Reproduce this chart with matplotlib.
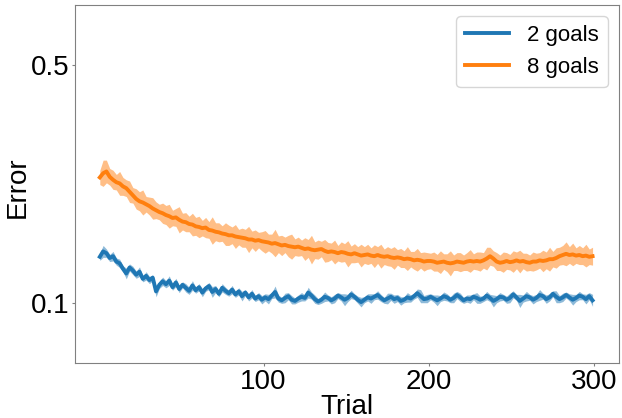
"""Error per trial for the 2-goal and 8-goal conditions (mean with SEM band)."""

import matplotlib
matplotlib.use("Agg")
import matplotlib.pyplot as plt
import numpy as np

plt.rcParams["font.family"] = ["Liberation Sans", "DejaVu Sans"]

# ------------------------------------------------------------------
# Data: values, one point every second trial
# ------------------------------------------------------------------
trials = np.arange(1, 300, 2)

err_2_goals = [
    0.178, 0.187, 0.184, 0.176, 0.179, 0.170, 0.167, 0.158, 0.150, 0.160,
    0.155, 0.148, 0.153, 0.141, 0.146, 0.139, 0.143, 0.120, 0.131, 0.137,
    0.132, 0.138, 0.127, 0.135, 0.124, 0.131, 0.126, 0.121, 0.130, 0.122,
    0.127, 0.118, 0.125, 0.129, 0.119, 0.124, 0.116, 0.126, 0.121, 0.117,
    0.123, 0.115, 0.120, 0.112, 0.118, 0.110, 0.116, 0.108, 0.112, 0.106,
    0.110, 0.107, 0.113, 0.119, 0.108, 0.105, 0.109, 0.112, 0.106, 0.104,
    0.108, 0.111, 0.109, 0.118, 0.113, 0.107, 0.103, 0.106, 0.111, 0.109,
    0.105, 0.108, 0.113, 0.110, 0.106, 0.109, 0.115, 0.111, 0.106, 0.102,
    0.106, 0.110, 0.108, 0.111, 0.114, 0.109, 0.105, 0.108, 0.111, 0.107,
    0.109, 0.104, 0.106, 0.110, 0.108, 0.112, 0.117, 0.112, 0.107, 0.108,
    0.111, 0.108, 0.105, 0.108, 0.112, 0.110, 0.106, 0.109, 0.114, 0.110,
    0.105, 0.108, 0.107, 0.111, 0.109, 0.106, 0.108, 0.113, 0.109, 0.104,
    0.107, 0.111, 0.110, 0.106, 0.109, 0.115, 0.110, 0.104, 0.108, 0.112,
    0.110, 0.106, 0.109, 0.114, 0.112, 0.107, 0.110, 0.116, 0.111, 0.107,
    0.110, 0.114, 0.110, 0.106, 0.109, 0.113, 0.111, 0.107, 0.112, 0.105,
]
sem_2_goals = [
    0.006, 0.010, 0.007, 0.006, 0.008, 0.006, 0.007, 0.005, 0.009, 0.006,
    0.007, 0.006, 0.008, 0.005, 0.007, 0.006, 0.005, 0.009, 0.006, 0.007,
    0.006, 0.008, 0.005, 0.007, 0.006, 0.005, 0.007, 0.006, 0.008, 0.005,
    0.006, 0.007, 0.005, 0.006, 0.009, 0.006, 0.005, 0.007, 0.006, 0.005,
    0.007, 0.005, 0.006, 0.008, 0.005, 0.006, 0.007, 0.005, 0.006, 0.007,
    0.006, 0.008, 0.005, 0.010, 0.006, 0.005, 0.008, 0.006, 0.007, 0.005,
    0.006, 0.007, 0.005, 0.009, 0.006, 0.007, 0.005, 0.006, 0.008, 0.005,
    0.006, 0.007, 0.005, 0.006, 0.010, 0.006, 0.007, 0.005, 0.006, 0.008,
    0.005, 0.006, 0.008, 0.005, 0.007, 0.006, 0.005, 0.009, 0.006, 0.007,
    0.006, 0.007, 0.005, 0.008, 0.006, 0.005, 0.007, 0.011, 0.006, 0.007,
    0.005, 0.006, 0.009, 0.005, 0.007, 0.006, 0.005, 0.008, 0.006, 0.007,
    0.005, 0.006, 0.007, 0.005, 0.009, 0.006, 0.005, 0.007, 0.006, 0.010,
    0.006, 0.007, 0.005, 0.006, 0.008, 0.006, 0.005, 0.011, 0.006, 0.008,
    0.005, 0.007, 0.006, 0.009, 0.005, 0.007, 0.006, 0.005, 0.010, 0.006,
    0.007, 0.005, 0.006, 0.009, 0.006, 0.007, 0.005, 0.008, 0.006, 0.010,
]

err_8_goals = [
    0.311, 0.318, 0.321, 0.312, 0.307, 0.303, 0.301, 0.296, 0.293, 0.287,
    0.281, 0.275, 0.271, 0.269, 0.266, 0.263, 0.259, 0.256, 0.253, 0.251,
    0.248, 0.246, 0.243, 0.244, 0.240, 0.237, 0.236, 0.233, 0.232, 0.229,
    0.228, 0.226, 0.227, 0.223, 0.222, 0.220, 0.219, 0.217, 0.216, 0.214,
    0.214, 0.212, 0.211, 0.210, 0.209, 0.207, 0.207, 0.205, 0.206, 0.204,
    0.203, 0.202, 0.200, 0.201, 0.199, 0.197, 0.198, 0.196, 0.195, 0.194,
    0.195, 0.193, 0.191, 0.192, 0.190, 0.189, 0.190, 0.191, 0.188, 0.186,
    0.187, 0.186, 0.184, 0.186, 0.185, 0.183, 0.182, 0.184, 0.182, 0.180,
    0.181, 0.182, 0.180, 0.179, 0.181, 0.179, 0.178, 0.179, 0.177, 0.176,
    0.177, 0.176, 0.174, 0.175, 0.174, 0.172, 0.173, 0.172, 0.170, 0.171,
    0.171, 0.170, 0.168, 0.169, 0.170, 0.168, 0.167, 0.168, 0.170, 0.169,
    0.168, 0.170, 0.171, 0.170, 0.171, 0.170, 0.172, 0.175, 0.179, 0.175,
    0.170, 0.168, 0.169, 0.171, 0.169, 0.170, 0.172, 0.170, 0.171, 0.169,
    0.168, 0.170, 0.170, 0.172, 0.171, 0.172, 0.174, 0.174, 0.176, 0.179,
    0.181, 0.183, 0.181, 0.182, 0.180, 0.181, 0.179, 0.180, 0.178, 0.179,
]
sem_8_goals = [
    0.012, 0.022, 0.019, 0.014, 0.016, 0.013, 0.020, 0.015, 0.014, 0.018,
    0.013, 0.017, 0.016, 0.021, 0.013, 0.015, 0.018, 0.014, 0.013, 0.017,
    0.016, 0.020, 0.013, 0.015, 0.022, 0.014, 0.016, 0.013, 0.019, 0.015,
    0.018, 0.013, 0.017, 0.014, 0.023, 0.015, 0.016, 0.013, 0.019, 0.017,
    0.014, 0.020, 0.013, 0.016, 0.015, 0.022, 0.014, 0.018, 0.013, 0.016,
    0.019, 0.014, 0.016, 0.023, 0.014, 0.017, 0.013, 0.018, 0.021, 0.014,
    0.016, 0.013, 0.019, 0.015, 0.024, 0.014, 0.016, 0.013, 0.019, 0.016,
    0.014, 0.020, 0.013, 0.017, 0.015, 0.022, 0.014, 0.016, 0.013, 0.019,
    0.014, 0.017, 0.013, 0.019, 0.014, 0.020, 0.013, 0.016, 0.015, 0.019,
    0.013, 0.016, 0.014, 0.020, 0.013, 0.015, 0.019, 0.013, 0.016, 0.014,
    0.013, 0.016, 0.014, 0.019, 0.013, 0.015, 0.021, 0.013, 0.015, 0.016,
    0.013, 0.015, 0.019, 0.013, 0.015, 0.016, 0.013, 0.019, 0.015, 0.013,
    0.015, 0.013, 0.017, 0.014, 0.013, 0.018, 0.014, 0.019, 0.013, 0.015,
    0.013, 0.016, 0.014, 0.013, 0.018, 0.014, 0.020, 0.013, 0.017, 0.015,
    0.016, 0.020, 0.014, 0.019, 0.013, 0.016, 0.014, 0.019, 0.013, 0.015,
]

series = [
    ("2 goals", err_2_goals, sem_2_goals, "#1f77b4"),
    ("8 goals", err_8_goals, sem_8_goals, "#ff7f0e"),
]

x_ticks = [100, 200, 300]
y_ticks = [0.1, 0.5]

# ------------------------------------------------------------------
# Figure
# ------------------------------------------------------------------
fig = plt.figure(figsize=(6.22, 4.18), dpi=100)
ax = fig.add_axes([0.1206, 0.1316, 0.8746, 0.8564])

for label, mean, sem, color in series:
    mean = np.asarray(mean)
    sem = np.asarray(sem)
    ax.fill_between(trials, mean - sem, mean + sem,
                    color=color, alpha=0.5, linewidth=0)
    ax.plot(trials, mean, color=color, linewidth=2.8, label=label)

ax.set_xlim(-14, 315)
ax.set_ylim(0.0, 0.6)
ax.set_xticks(x_ticks)
ax.set_yticks(y_ticks)
ax.tick_params(labelsize=20, color="#808080", length=2.5, pad=1.5)
for spine in ax.spines.values():
    spine.set_color("#808080")

ax.set_xlabel("Trial", fontsize=20)
ax.set_ylabel("Error", fontsize=20)
ax.xaxis.set_label_coords(0.5, -0.088)
ax.yaxis.set_label_coords(-0.082, 0.49)
ax.legend(loc="upper right", fontsize=16)

fig.savefig("out.png", dpi=100)
plt.close(fig)
